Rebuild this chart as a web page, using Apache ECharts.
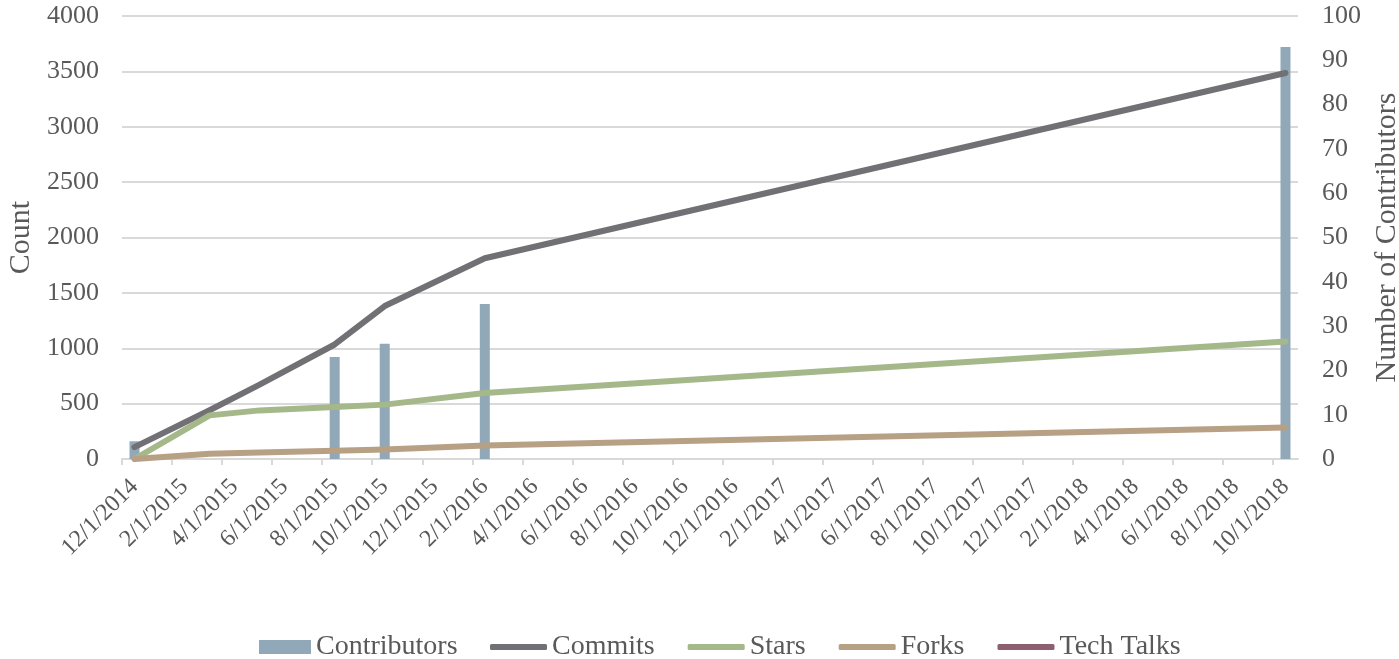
<!DOCTYPE html>
<html>
<head>
<meta charset="utf-8">
<script src="https://cdn.jsdelivr.net/npm/echarts@6/dist/echarts.min.js"></script>
<style>html,body{margin:0;padding:0;background:#fff}#c{width:1399px;height:659px}</style>
</head>
<body>
<div id="c"></div>
<script>
// Tick labels of the date axis (every 2 months)
const tickLabels = ['12/1/2014','2/1/2015','4/1/2015','6/1/2015','8/1/2015','10/1/2015','12/1/2015',
  '2/1/2016','4/1/2016','6/1/2016','8/1/2016','10/1/2016','12/1/2016','2/1/2017','4/1/2017','6/1/2017',
  '8/1/2017','10/1/2017','12/1/2017','2/1/2018','4/1/2018','6/1/2018','8/1/2018','10/1/2018'];
// Data dates
const dataDates = ['12/1/2014','3/1/2015','5/1/2015','8/1/2015','10/1/2015','2/1/2016','10/1/2018'];
// Series values
const contributors = [4, null, null, 23, 26, 35, 93];
const commits = [107, 440, 672, 1034, 1381, 1813, 3485];
const stars = [0, 394, 439, 469, 491, 596, 1062];
const forks = [0, 47, 59, 74, 86, 122, 285];
const techTalks = [];

const axisEndLabel = '11/1/2018';

function monthIndex(s) {
  const p = s.split('/').map(Number);
  return (p[2] - 2014) * 12 + (p[0] - 12);
}
// Excel date axis (months, between tick marks): a month's point sits at its middle
const pos = s => monthIndex(s) + 0.5;
const pairs = arr => dataDates.map((d, i) => [pos(d), arr[i]]);

const FONT = 'Liberation Serif';
const TXT = '#595959';
const GRID = '#d9d9d9';

const chart = echarts.init(document.getElementById('c'));
chart.setOption({
  animation: false,
  textStyle: { fontFamily: FONT, color: TXT },
  grid: { left: 122, right: 101, top: 16, bottom: 200, containLabel: false, outerBoundsMode: 'none' },
  legend: [
    {
      left: 259, top: 633, padding: 0,
      itemWidth: 52, itemHeight: 14,
      textStyle: { fontFamily: FONT, fontSize: 28, color: TXT },
      data: [{ name: 'Contributors', icon: 'rect' }]
    },
    {
      left: 490, top: 633, padding: 0,
      itemWidth: 57, itemHeight: 6, itemGap: 33, icon: 'roundRect',
      textStyle: { fontFamily: FONT, fontSize: 28, color: TXT },
      data: ['Commits', 'Stars', 'Forks', 'Tech Talks']
    }
  ],
  xAxis: {
    type: 'value',
    min: monthIndex(tickLabels[0]),
    max: monthIndex(axisEndLabel),
    splitLine: { show: false },
    axisLine: { lineStyle: { color: GRID, width: 2 } },
    axisTick: { customValues: tickLabels.map(monthIndex), length: 6, lineStyle: { color: GRID, width: 2 } },
    axisLabel: {
      customValues: tickLabels.map(pos),
      rotate: 45, margin: 24,
      fontFamily: FONT, fontSize: 24, color: TXT,
      formatter: v => tickLabels[Math.round((v - 0.5) / 2)]
    }
  },
  yAxis: [
    {
      type: 'value', min: 0, max: 4000, interval: 500,
      name: 'Count', nameLocation: 'middle', nameGap: 78,
      nameTextStyle: { fontFamily: FONT, fontSize: 30, color: TXT },
      axisLine: { show: false }, axisTick: { show: false },
      axisLabel: { fontFamily: FONT, fontSize: 26, color: TXT, margin: 23, formatter: v => String(v) },
      splitLine: { lineStyle: { color: GRID, width: 2 } }
    },
    {
      type: 'value', min: 0, max: 100, interval: 10,
      name: 'Number of Contributors', nameLocation: 'middle', nameGap: 72,
      nameTextStyle: { fontFamily: FONT, fontSize: 30, color: TXT },
      axisLine: { show: false }, axisTick: { show: false },
      axisLabel: { fontFamily: FONT, fontSize: 26, color: TXT, margin: 24, formatter: v => String(v) },
      splitLine: { show: false }
    }
  ],
  series: [
    { name: 'Contributors', type: 'bar', yAxisIndex: 1, barWidth: 10,
      itemStyle: { color: '#91a8b9' }, data: pairs(contributors) },
    { name: 'Commits', type: 'line', showSymbol: false, symbol: 'none',
      itemStyle: { color: '#707075' }, lineStyle: { color: '#707075', width: 6, cap: 'round', join: 'round' },
      data: pairs(commits) },
    { name: 'Stars', type: 'line', showSymbol: false, symbol: 'none',
      itemStyle: { color: '#a5b88a' }, lineStyle: { color: '#a5b88a', width: 6, cap: 'round', join: 'round' },
      data: pairs(stars) },
    { name: 'Forks', type: 'line', showSymbol: false, symbol: 'none',
      itemStyle: { color: '#b8a084' }, lineStyle: { color: '#b8a084', width: 6, cap: 'round', join: 'round' },
      data: pairs(forks) },
    { name: 'Tech Talks', type: 'line', showSymbol: false, symbol: 'none',
      itemStyle: { color: '#8e5f70' }, lineStyle: { color: '#8e5f70', width: 6, cap: 'round', join: 'round' },
      data: techTalks }
  ]
});
</script>
</body>
</html>
